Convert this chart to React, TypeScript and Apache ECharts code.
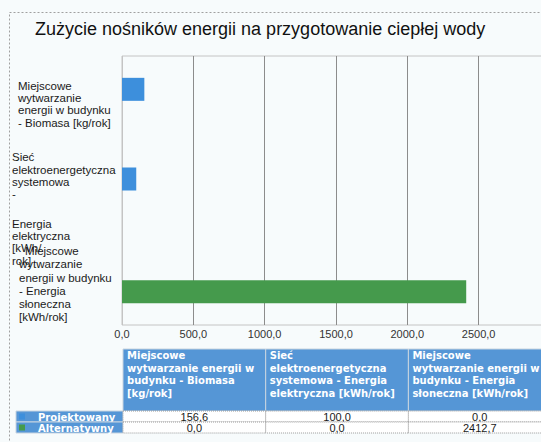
import React, { useEffect, useRef } from "react";
import * as echarts from "echarts";

const titleText = "Zużycie nośników energii na przygotowanie ciepłej wody";
const categories = [
  "Miejscowe wytwarzanie energii w budynku - Biomasa [kg/rok]",
  "Sieć elektroenergetyczna systemowa - Energia elektryczna [kWh/rok]",
  "Miejscowe wytwarzanie energii w budynku - Energia słoneczna [kWh/rok]",
];
const seriesNames = ["Projektowany", "Alternatywny"];
const projektowany = [156.6, 100.0, 0.0];
const alternatywny = [0.0, 0.0, 2412.7];
const xMin = 0;
const xMax = 3000;
const xStep = 500;

// wrapped versions of the category names as they appear on the y axis
const axisLabelLines = [
  ["Miejscowe", "wytwarzanie", "energii w budynku", "- Biomasa [kg/rok]"],
  ["Sieć", "elektroenergetyczna", "systemowa", "-", "Energia", "elektryczna", "[kWh/", "rok]"],
  ["Miejscowe", "wytwarzanie", "energii w budynku", "- Energia", "słoneczna", "[kWh/rok]"],
];
// wrapped versions used in the data table header
const headerLines = [
  ["Miejscowe", "wytwarzanie energii w", "budynku - Biomasa", "[kg/rok]"],
  ["Sieć", "elektroenergetyczna", "systemowa - Energia", "elektryczna [kWh/rok]"],
  ["Miejscowe", "wytwarzanie energii w", "budynku - Energia", "słoneczna [kWh/rok]"],
];

const BLUE = "#3d8fdc";
const GREEN = "#459a4c";
const HEAD = "#5596d6";
const BG = "#f7fbfc";

const fmt = (v: number) => v.toFixed(1).replace(".", ",");

export default function App() {
  const ref = useRef<HTMLDivElement>(null);
  useEffect(() => {
    if (!ref.current) return;
    const chart = echarts.init(ref.current, null, { renderer: "svg" });

    const gridLeft = 122;
    const gridTop = 56;
    const gridW = 428;
    const gridH = 269;

    const tableLeft = 123;
    const colW = 142.7;
    const headTop = 349;
    const headH = 62;
    const rowH = 11;
    const rows = [projektowany, alternatywny];
    const colors = [BLUE, GREEN];

    const graphics: any[] = [];
    // outer frame
    graphics.push({
      type: "rect",
      shape: { x: 9.5, y: 12.5, width: 600, height: 500 },
      style: { fill: "none", stroke: "#a0a0a0", lineWidth: 1, lineDash: [2, 2] },
      silent: true,
    });
    // header cells
    headerLines.forEach((lines, i) => {
      const x = tableLeft + i * colW;
      graphics.push({
        type: "rect",
        shape: { x, y: headTop, width: colW, height: headH },
        style: { fill: HEAD, stroke: "#c8d4e0", lineWidth: 1 },
      });
      graphics.push({
        type: "text",
        x: x + 4,
        y: headTop + 0.5,
        style: {
          text: lines.join("\n"),
          fill: "#ffffff",
          fontSize: 10,
          fontWeight: "bold",
          fontFamily: "DejaVu Sans",
          lineHeight: 12.5,
          align: "left",
          verticalAlign: "top",
        },
      });
    });
    // value rows + legend cells
    rows.forEach((vals, r) => {
      const y = headTop + headH + r * rowH;
      graphics.push({
        type: "rect",
        shape: { x: 16, y, width: tableLeft - 16, height: rowH },
        style: { fill: HEAD, stroke: "#c8d4e0", lineWidth: 1 },
      });
      graphics.push({
        type: "rect",
        shape: { x: 19, y: y + 2.5, width: 6, height: 6 },
        style: { fill: colors[r] },
      });
      graphics.push({
        type: "text",
        x: 38,
        y: y + rowH / 2 + 0.5,
        style: {
          text: seriesNames[r],
          fill: "#ffffff",
          fontSize: 10,
          fontWeight: "bold",
          fontFamily: "DejaVu Sans",
          align: "left",
          verticalAlign: "middle",
        },
      });
      vals.forEach((v, i) => {
        const x = tableLeft + i * colW;
        graphics.push({
          type: "rect",
          shape: { x, y, width: colW, height: rowH },
          style: { fill: "#ffffff", stroke: "#9a9a9a", lineWidth: 1, lineDash: [1, 1] },
        });
        graphics.push({
          type: "text",
          x: x + colW / 2,
          y: y + rowH / 2 + 0.5,
          style: {
            text: fmt(v),
            fill: "#1a1a1a",
            fontSize: 11,
            fontFamily: "Liberation Sans",
            align: "center",
            verticalAlign: "middle",
          },
        });
      });
    });

    const labelFont = { fontSize: 11.5, fontFamily: "Liberation Sans", color: "#1a1a1a", align: "left" };
    const gaps = [7, 37, 8];

    chart.setOption({
      animation: false,
      backgroundColor: BG,
      title: {
        text: titleText,
        left: 30,
        top: 15,
        textStyle: { fontSize: 18, fontWeight: "normal", color: "#111", fontFamily: "Liberation Sans" },
      },
      grid: {
        left: gridLeft,
        top: gridTop,
        width: gridW,
        height: gridH,
        outerBoundsMode: "none",
        containLabel: false,
        show: true,
        borderColor: "#c4c4c4",
        borderWidth: 1,
        backgroundColor: "transparent",
      },
      xAxis: {
        type: "value",
        min: xMin,
        max: xMax,
        interval: xStep,
        axisLine: { show: false },
        axisTick: { show: false },
        splitLine: {
          show: true,
          lineStyle: { color: ["#c4c4c4", "#8c8c8c", "#8c8c8c", "#8c8c8c", "#8c8c8c", "#8c8c8c", "#8c8c8c"], width: 1 },
        },
        axisLabel: {
          formatter: (v: number) => fmt(v),
          fontSize: 11,
          fontFamily: "Liberation Sans",
          color: "#333",
          margin: 3,
          showMaxLabel: false,
        },
      },
      yAxis: {
        type: "category",
        inverse: true,
        data: categories,
        axisLine: { show: false },
        axisTick: { show: false },
        axisLabel: {
          interval: 0,
          margin: 110,
          align: "left",
          formatter: (_v: string, idx: number) => {
            const style = idx === 1 ? "b" : idx === 2 ? "c" : "a";
            const lines = axisLabelLines[idx].map((l, k) => {
              if (idx === 1 && l === "Energia") return "{g17| }\n{" + style + "|" + l + "}";
              if (idx === 2 && k === 0) return "{d|" + l + "}";
              return "{" + style + "|" + l + "}";
            });
            return "{g" + gaps[idx] + "| }\n" + lines.join("\n");
          },
          rich: {
            a: { ...labelFont, lineHeight: 12.3, padding: [0, 0, 0, 6] },
            b: { ...labelFont, lineHeight: 12.3, padding: [0, 0, 0, 0] },
            c: { ...labelFont, lineHeight: 13.2, padding: [0, 0, 0, 7] },
            d: { ...labelFont, lineHeight: 13.2, padding: [0, 0, 0, 13] },
            g7: { fontSize: 1, lineHeight: 7 },
            g8: { fontSize: 1, lineHeight: 8 },
            g17: { fontSize: 1, lineHeight: 17 },
            g37: { fontSize: 1, lineHeight: 37 },
          },
        },
      },
      series: [
        {
          name: seriesNames[0],
          type: "bar",
          data: projektowany,
          barWidth: 23,
          barGap: "0%",
          itemStyle: { color: BLUE },
        },
        {
          name: seriesNames[1],
          type: "bar",
          data: alternatywny,
          barWidth: 23,
          barGap: "0%",
          itemStyle: { color: GREEN },
        },
      ],
      graphic: graphics,
    });
    return () => chart.dispose();
  }, []);
  return (
    <div
      ref={ref}
      style={{ position: "absolute", left: 0, top: 0, width: 541, height: 442 }}
    />
  );
}
